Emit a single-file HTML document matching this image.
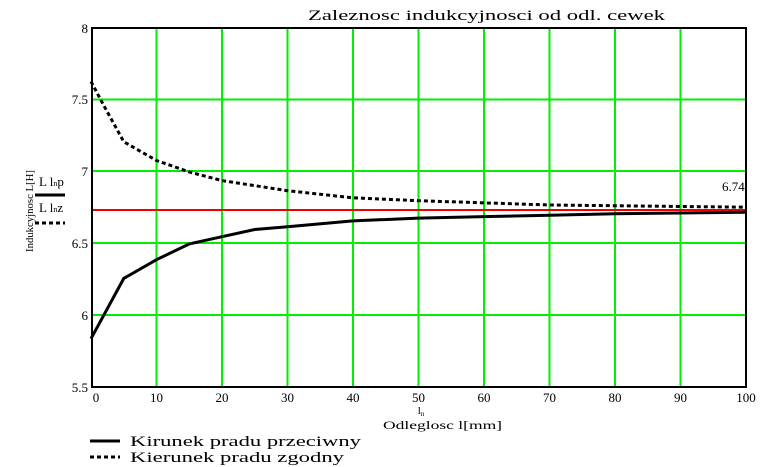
<!DOCTYPE html><html><head><style>body{margin:0;background:#fff}svg{display:block}text{font-family:"Liberation Serif",serif}</style></head><body>
<svg width="767" height="467" viewBox="0 0 767 467">
<text x="308" y="20" font-size="15" textLength="357" lengthAdjust="spacingAndGlyphs">Zaleznosc indukcyjnosci od odl. cewek</text>
<g stroke="#00ee00" stroke-width="2">
<line x1="156.5" y1="28" x2="156.5" y2="387"/><line x1="222" y1="28" x2="222" y2="387"/><line x1="287.5" y1="28" x2="287.5" y2="387"/><line x1="353" y1="28" x2="353" y2="387"/><line x1="418.5" y1="28" x2="418.5" y2="387"/><line x1="484" y1="28" x2="484" y2="387"/><line x1="549.5" y1="28" x2="549.5" y2="387"/><line x1="615" y1="28" x2="615" y2="387"/><line x1="680.5" y1="28" x2="680.5" y2="387"/>
<line x1="91" y1="99.5" x2="746" y2="99.5"/><line x1="91" y1="171" x2="746" y2="171"/><line x1="91" y1="243" x2="746" y2="243"/><line x1="91" y1="315" x2="746" y2="315"/>
</g>
<line x1="91" y1="210" x2="746" y2="210" stroke="#e00" stroke-width="2"/>
<rect x="92" y="28" width="654" height="359" fill="none" stroke="#000" stroke-width="2"/>
<polyline fill="none" stroke="#000" stroke-width="3" points="91,338.7 123.8,278.4 156.5,259.7 189.3,243.9 222,236.7 254.8,229.5 287.5,226.7 353,220.9 418.5,218.1 484,216.6 549.5,215.2 615,213.7 746,212.3"/>
<polyline fill="none" stroke="#000" stroke-width="3" stroke-dasharray="4,3" points="91,81.5 104,105.9 123.8,141.8 156.5,160.5 189.3,172 222,180.6 287.5,190.7 353,197.8 418.5,200.7 549.5,205 746,207.2"/>
<g font-size="13" text-anchor="end"><text x="88" y="33">8</text><text x="88" y="104">7.5</text><text x="88" y="176">7</text><text x="88" y="248">6.5</text><text x="88" y="320">6</text><text x="88" y="392">5.5</text></g>
<g font-size="13" text-anchor="middle"><text x="96" y="402">0</text><text x="156.5" y="402">10</text><text x="222" y="402">20</text><text x="287.5" y="402">30</text><text x="353" y="402">40</text><text x="418.5" y="402">50</text><text x="484" y="402">60</text><text x="549.5" y="402">70</text><text x="615" y="402">80</text><text x="680.5" y="402">90</text><text x="746" y="402">100</text></g>
<text x="722" y="191" font-size="13">6.74</text>
<text x="421" y="414" font-size="11" text-anchor="middle">l<tspan font-size="7" dy="2">n</tspan></text>
<text x="383" y="429" font-size="12" textLength="119" lengthAdjust="spacingAndGlyphs">Odleglosc l[mm]</text>
<text transform="translate(33,252) rotate(-90)" font-size="11" textLength="82" lengthAdjust="spacingAndGlyphs">Indukcyjnosc L[H]</text>
<text x="39" y="186" font-size="13">L l<tspan font-size="8">n</tspan>p</text>
<line x1="35" y1="195" x2="65" y2="195" stroke="#000" stroke-width="3"/>
<text x="39" y="212" font-size="13">L l<tspan font-size="8">n</tspan>z</text>
<line x1="35" y1="223" x2="65" y2="223" stroke="#000" stroke-width="3" stroke-dasharray="4,3"/>
<line x1="90" y1="441" x2="120" y2="441" stroke="#000" stroke-width="3"/>
<line x1="90" y1="457" x2="120" y2="457" stroke="#000" stroke-width="3" stroke-dasharray="4,3"/>
<text x="130" y="446" font-size="15" textLength="231" lengthAdjust="spacingAndGlyphs">Kirunek pradu przeciwny</text>
<text x="130" y="462" font-size="15" textLength="214" lengthAdjust="spacingAndGlyphs">Kierunek pradu zgodny</text>
</svg></body></html>
